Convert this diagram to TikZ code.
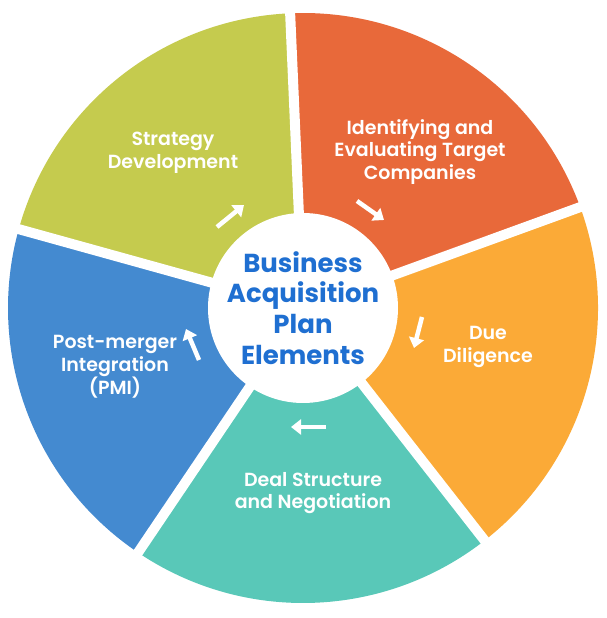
\documentclass[tikz,border=0pt]{standalone}
\usepackage{fontspec}
\setmainfont{Poppins}
\newfontfamily\semib{Poppins SemiBold}
\usetikzlibrary{arrows.meta}
\definecolor{cgreen}{HTML}{C5CB4E}
\definecolor{corange}{HTML}{E8693A}
\definecolor{cyellow}{HTML}{FBAA37}
\definecolor{cteal}{HTML}{59C8B8}
\definecolor{cblue}{HTML}{448AD0}
\definecolor{ctitle}{HTML}{1F6FD1}
\tikzset{
  gap/.style={white, line width=10pt},
  flow/.style={white, line width=4.5pt, -{Triangle[width=15pt,length=10pt]}},
  lbl/.style={text=white, align=center, font=\semib\fontsize{19}{22.8}\selectfont},
  title/.style={text=ctitle, align=center, font=\bfseries\fontsize{26}{30.7}\selectfont},
}
\begin{document}
\begin{tikzpicture}[x=1pt,y=1pt]
\useasboundingbox (0,0) rectangle (607,618);
\fill[white] (0,0) rectangle (607,618);
\coordinate (C) at (303,310);
% sectors
\fill[cgreen]  (C) -- ++(92.5:295) arc[start angle=92.5, end angle=164.5, radius=295] -- cycle;
\fill[corange] (C) -- ++(20:295) arc[start angle=20, end angle=92.5, radius=295] -- cycle;
\fill[cyellow] (C) -- ++(-52:295) arc[start angle=-52, end angle=20, radius=295] -- cycle;
\fill[cteal]   (C) -- ++(-124:295) arc[start angle=-124, end angle=-52, radius=295] -- cycle;
\fill[cblue]   (C) -- ++(164.5:295) arc[start angle=164.5, end angle=236, radius=295] -- cycle;
% gaps
\foreach \a in {92.5,20,-52,-124,164.5}
  \draw[gap] (C) -- ++(\a:305);
% centre
\node[circle, fill=white, minimum size=190pt, inner sep=0pt] (hub) at (C) {};
\node[title] (ttl) at (303,310) {Business\\Acquisition\\Plan\\Elements};
% labels
\node[lbl] (s1) at (173,465) {Strategy\\Development};
\node[lbl] (s2) at (420,466) {Identifying and\\Evaluating Target\\Companies};
\node[lbl] (s3) at (488,271) {Due\\Diligence};
\node[lbl] (s4) at (313,125) {Deal Structure\\and Negotiation};
\node[lbl] (s5) at (115,251) {Post-merger\\Integration\\(PMI)};
% arrows
\coordinate (a1s) at (217,391); \coordinate (a1e) at (244,413);
\coordinate (a2s) at (357,417); \coordinate (a2e) at (384,398);
\coordinate (a3s) at (422,301); \coordinate (a3e) at (414,270);
\coordinate (a4s) at (326,191); \coordinate (a4e) at (291,191);
\coordinate (a5s) at (199,258); \coordinate (a5e) at (186,289);
\draw[flow] (a1s) -- (a1e);
\draw[flow] (a2s) -- (a2e);
\draw[flow] (a3s) -- (a3e);
\draw[flow] (a4s) -- (a4e);
\draw[flow] (a5s) -- (a5e);
\end{tikzpicture}
\end{document}
